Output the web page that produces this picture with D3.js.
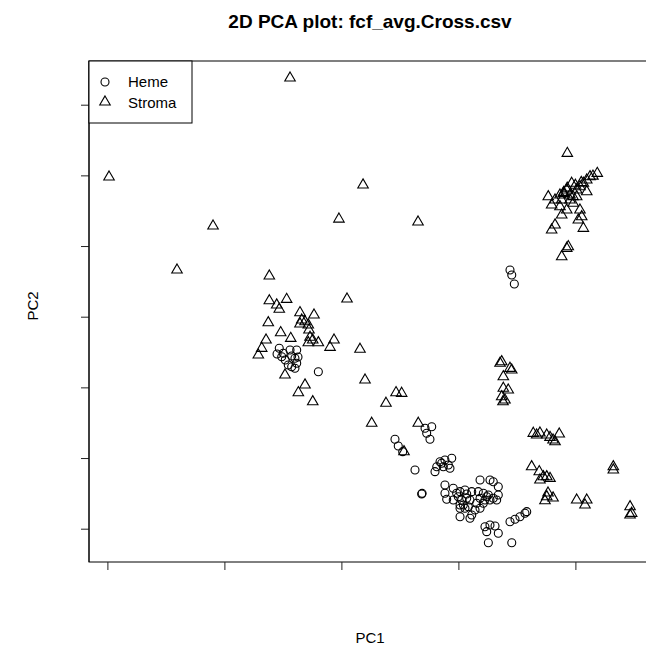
<!DOCTYPE html>
<html>
<head>
<meta charset="utf-8">
<script src="https://cdn.jsdelivr.net/npm/d3@7"></script>
<style>
  body { margin: 0; background: #fff; }
  text { font-family: "Liberation Sans", Arial, sans-serif; fill: #000; }
</style>
</head>
<body>
<div id="chart"></div>
<script>
var width = 646, height = 648;

// tick positions (the reference has no tick labels)
var xTicks = [-20, -10, 0, 10, 20];
var yTicks = [-30, -20, -10, 0, 10, 20, 30];

// Heme samples: PC1, PC2
var hemePC1 = [-5.5,-5.1,-4.8,-4.25,-3.97,-3.82,-4.25,-3.97,-4.54,-4.97,-5.31,-3.82,-1.97,-4.39,-3.71,
  7.15,7.72,7.29,7.57,4.58,4.86,5.24,6.29,6.86,6.9,
  8.15,8.43,8.85,9.43,8.71,9.14,8.0,9.28,8.57,
  8.85,9.56,8.85,9.0,9.85,10.14,10.56,10.28,9.56,9.99,10.71,10.42,10.99,10.85,10.14,10.56,10.14,10.99,11.14,11.42,11.85,11.56,11.85,12.27,12.42,12.7,12.98,13.27,13.41,11.85,12.7,12.98,13.41,11.7,12.13,12.56,12.13,11.14,10.71,10.14,
  12.27,12.7,13.13,13.41,12.42,12.56,14.56,14.41,14.84,15.26,15.69,15.84,
  14.41,14.56,14.78];
var hemePC2 = [-5.28,-5.66,-6.13,-5.56,-5.89,-6.59,-7.08,-7.3,-6.83,-5.18,-4.47,-4.71,-7.78,-4.71,-5.7,
  -15.79,-15.57,-16.5,-17.35,-17.35,-18.3,-19.1,-21.69,-25.09,-25.0,
  -21.23,-20.52,-20.28,-20.04,-21.23,-20.98,-21.93,-21.45,-20.74,
  -23.82,-24.28,-24.99,-25.84,-24.99,-24.76,-24.52,-25.94,-25.94,-25.47,-25.7,-26.65,-25.94,-26.89,-27.11,-27.11,-28.3,-28.53,-28.06,-27.35,-27.11,-26.4,-25.7,-25.94,-25.47,-25.94,-25.7,-25.94,-25.23,-23.11,-23.11,-23.35,-24.06,-24.76,-24.99,-25.23,-26.4,-24.76,-25.09,-26.65,
  -29.72,-29.48,-29.62,-30.65,-30.42,-31.98,-31.98,-29.01,-28.67,-28.3,-27.82,-27.59,
  6.61,5.9,4.63];

// Stroma samples: PC1, PC2
var stromaPC1 = [-4.39,-19.86,-10.97,-14.05,1.85,-0.21,6.55,0.48,
  -6.16,-6.16,-4.68,-5.53,-5.31,-6.25,-3.54,-2.34,-3.39,-3.11,-2.83,-3.54,-5.19,-4.33,-6.44,-6.81,-7.1,-2.68,-2.45,-1.97,-2.83,-0.63,-0.97,1.59,
  -4.82,-3.11,-3.68,-2.45,2.02,3.81,4.67,5.15,2.59,6.57,-2.77,5.35,
  13.81,13.7,13.56,14.41,14.56,13.84,13.84,14.26,13.7,13.98,
  16.4,16.97,17.55,18.09,16.69,17.83,18.62,18.26,16.26,16.91,17.26,17.83,16.97,17.55,17.55,18.09,17.66,17.4,20.11,20.97,20.82,23.24,23.24,24.67,24.81,24.67,
  19.31,21.87,21.25,20.97,20.68,20.39,20.11,19.68,19.26,18.97,18.68,19.54,20.11,20.97,17.68,18.26,18.83,19.54,17.97,18.68,19.82,19.26,20.39,18.83,20.54,20.25,18.26,17.97,20.68,19.39,19.26,18.83,
  19.0,19.3,20.0,20.5,21.5,19.8];
var stromaPC2 = [33.78,19.77,12.83,6.61,18.64,13.82,13.4,2.5,
  5.76,2.26,2.46,1.66,1.05,-0.85,0.57,0.24,-0.47,-0.71,-1.17,-1.03,-2.26,-3.06,-3.3,-4.47,-5.42,-2.91,-3.3,-3.68,-3.68,-3.3,-4.33,-4.61,
  -8.25,-9.66,-10.75,-12.03,-8.96,-12.25,-10.75,-10.84,-15.08,-15.08,-1.88,-19.1,
  -12.03,-6.37,-6.59,-7.3,-7.54,-8.49,-10.13,-10.37,-11.32,-11.79,
  -16.5,-16.46,-16.74,-17.45,-16.74,-17.07,-16.6,-17.69,-21.23,-21.93,-22.64,-22.87,-23.11,-22.64,-25.47,-25.65,-24.95,-26.04,-25.94,-25.94,-26.65,-21.23,-21.69,-26.89,-27.82,-28.06,
  23.12,20.29,19.81,19.34,18.88,18.4,17.93,18.88,17.93,17.46,17.22,17.22,16.98,17.69,16.98,16.51,16.51,16.51,15.81,15.57,16.05,15.1,15.1,14.39,14.15,13.68,12.98,12.27,12.51,9.91,9.68,8.49,
  17.6,18.2,18.6,19.0,19.9,17.0];

var svg = d3.select("#chart").append("svg")
    .attr("width", width)
    .attr("height", height);

var x = d3.scaleLinear().domain([-20, 20]).range([107.4, 575.4]);
var y = d3.scaleLinear().domain([-30, 30]).range([528.7, 104.7]);

// plot box (runs past the right edge like the reference)
var box = {left: 89, top: 61, right: 651, bottom: 562};

svg.append("rect")
    .attr("x", box.left).attr("y", box.top)
    .attr("width", box.right - box.left).attr("height", box.bottom - box.top)
    .attr("fill", "none").attr("stroke", "#000").attr("stroke-width", 1);

// axes, ticks only
var xAxis = svg.append("g")
    .attr("transform", "translate(0," + box.bottom + ")")
    .call(d3.axisBottom(x).tickValues(xTicks).tickFormat("").tickSize(8).tickSizeOuter(0));
var yAxis = svg.append("g")
    .attr("transform", "translate(" + box.left + ",0)")
    .call(d3.axisLeft(y).tickValues(yTicks).tickFormat("").tickSize(8).tickSizeOuter(0));
xAxis.select(".domain").remove();
yAxis.select(".domain").remove();
svg.selectAll(".tick line").attr("stroke", "#222");

svg.append("line")
    .attr("x1", box.left).attr("x2", box.left)
    .attr("y1", box.top).attr("y2", box.bottom)
    .attr("stroke", "#000");

var heme = hemePC1.map(function(v, i) { return {pc1: v, pc2: hemePC2[i]}; });
var stroma = stromaPC1.map(function(v, i) { return {pc1: v, pc2: stromaPC2[i]}; });

var tri = d3.symbol().type(d3.symbolTriangle).size(48);

svg.append("g").selectAll("circle")
    .data(heme)
  .enter().append("circle")
    .attr("cx", function(d) { return x(d.pc1); })
    .attr("cy", function(d) { return y(d.pc2); })
    .attr("r", 4)
    .attr("fill", "none")
    .attr("stroke", "#000")
    .attr("stroke-width", 1.1);

svg.append("g").selectAll("path")
    .data(stroma)
  .enter().append("path")
    .attr("d", tri)
    .attr("transform", function(d) { return "translate(" + x(d.pc1) + "," + y(d.pc2) + ")"; })
    .attr("fill", "none")
    .attr("stroke", "#000")
    .attr("stroke-width", 1.1);

// legend
var legend = svg.append("g");
legend.append("rect")
    .attr("x", box.left).attr("y", box.top)
    .attr("width", 103).attr("height", 62)
    .attr("fill", "#fff").attr("stroke", "#000");
legend.append("circle")
    .attr("cx", 105).attr("cy", 82).attr("r", 4)
    .attr("fill", "none").attr("stroke", "#000").attr("stroke-width", 1.1);
legend.append("path")
    .attr("d", tri)
    .attr("transform", "translate(105,102)")
    .attr("fill", "none").attr("stroke", "#000").attr("stroke-width", 1.1);
legend.append("text").attr("x", 128).attr("y", 87).style("font-size", "15px").text("Heme");
legend.append("text").attr("x", 128).attr("y", 108).style("font-size", "15px").text("Stroma");

// titles
svg.append("text")
    .attr("x", 370).attr("y", 28)
    .attr("text-anchor", "middle")
    .style("font-size", "19px").style("font-weight", "bold")
    .text("2D PCA plot: fcf_avg.Cross.csv");

svg.append("text")
    .attr("x", 370).attr("y", 643)
    .attr("text-anchor", "middle")
    .style("font-size", "15px")
    .text("PC1");

svg.append("text")
    .attr("transform", "translate(38,306) rotate(-90)")
    .attr("text-anchor", "middle")
    .style("font-size", "15px")
    .text("PC2");
</script>
</body>
</html>
